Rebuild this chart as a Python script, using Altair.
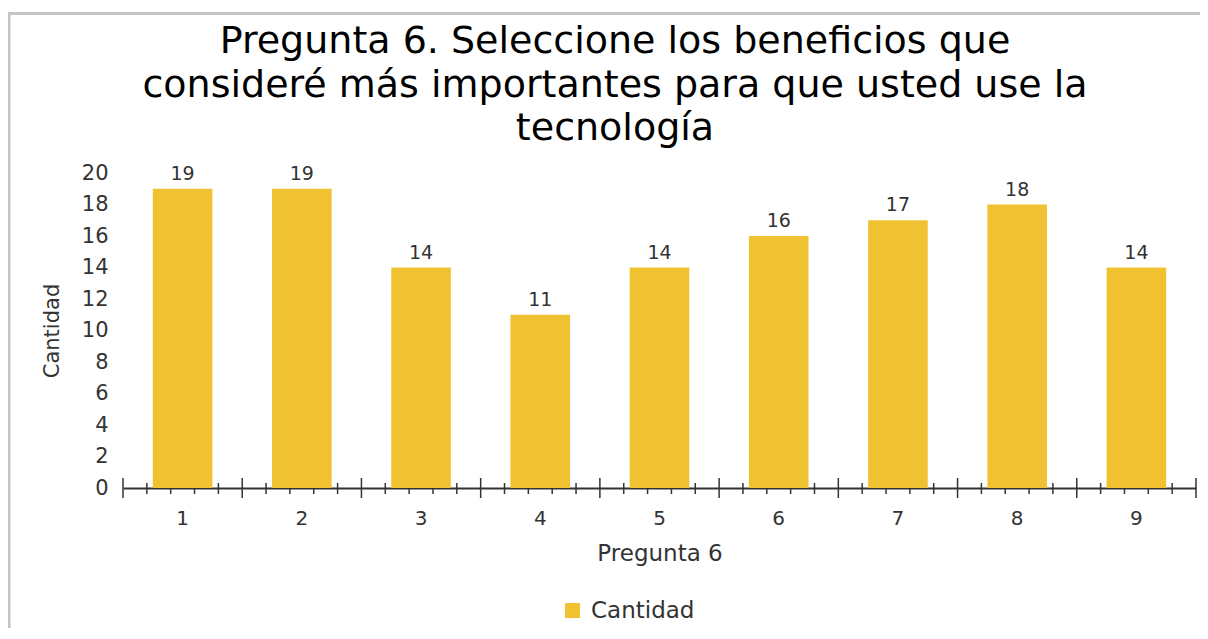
import altair as alt
import pandas as pd

categories = ["1", "2", "3", "4", "5", "6", "7", "8", "9"]
values = [19, 19, 14, 11, 14, 16, 17, 18, 14]
series_name = ["Cantidad"] * len(categories)

title_lines = [
    "Pregunta 6. Seleccione los beneficios que",
    "consideré más importantes para que usted use la",
    "tecnología",
]

y_ticks = [0, 2, 4, 6, 8, 10, 12, 14, 16, 18, 20]
major_ticks = [0.5 + i for i in range(10)]
minor_ticks = [0.5 + i + f for i in range(9) for f in (0.2, 0.4, 0.6, 0.8)]

W, H = 1073, 315
BAR = "#F0C232"
TXT = "#333333"
FONT = "DejaVu Sans"

df = pd.DataFrame({"cat": categories, "val": values, "serie": series_name})
df_major = pd.DataFrame({"pos": major_ticks})
df_minor = pd.DataFrame({"pos": minor_ticks})
df_one = pd.DataFrame({"k": [0]})

qx = alt.Scale(domain=[0.5, 9.5], nice=False, zero=False)
band = alt.Scale(paddingInner=0.5, paddingOuter=0.25)
yscale = alt.Scale(domain=[0, 20], nice=False)

y_axis = alt.Axis(
    values=y_ticks,
    domain=False,
    ticks=False,
    grid=False,
    labelOverlap=False,
    labelFont=FONT,
    labelFontSize=21,
    labelColor=TXT,
    labelPadding=15,
    title="Cantidad",
    titleFont=FONT,
    titleFontSize=21,
    titleFontWeight="normal",
    titleColor=TXT,
    titlePadding=19,
)

frame_left = alt.Chart(df_one).mark_rule(color="#c4c4c4", strokeWidth=3).encode(
    x=alt.value(-114), y=alt.value(-160), y2=alt.value(H + 160)
)
frame_top = alt.Chart(df_one).mark_rule(color="#c4c4c4", strokeWidth=3).encode(
    x=alt.value(-115), x2=alt.value(W + 10), y=alt.value(-159.5)
)

title_mark = alt.Chart(df_one).mark_text(
    text=title_lines,
    font=FONT,
    fontSize=38,
    color="black",
    align="center",
    baseline="middle",
    lineHeight=43.5,
).encode(x=alt.value(492), y=alt.value(-131))

minor = alt.Chart(df_minor).mark_rule(color=TXT, strokeWidth=1.5).encode(
    x=alt.X("pos:Q", scale=qx, axis=None),
    y=alt.value(H - 5),
    y2=alt.value(H + 6),
)
major = alt.Chart(df_major).mark_rule(color=TXT, strokeWidth=1.5).encode(
    x=alt.X("pos:Q", scale=qx, axis=None),
    y=alt.value(H - 10),
    y2=alt.value(H + 10),
)

bars = alt.Chart(df).mark_bar().encode(
    x=alt.X(
        "cat:N",
        sort=categories,
        scale=band,
        axis=alt.Axis(
            orient="bottom",
            labelAngle=0,
            domain=True,
            domainColor=TXT,
            domainWidth=2,
            ticks=False,
            labelPadding=20,
            labelFont=FONT,
            labelFontSize=20,
            labelColor=TXT,
            title="Pregunta 6",
            titleFont=FONT,
            titleFontSize=23,
            titleFontWeight="normal",
            titleColor=TXT,
            titlePadding=14,
        ),
    ),
    y=alt.Y("val:Q", scale=yscale, axis=y_axis),
    color=alt.Color(
        "serie:N",
        scale=alt.Scale(range=[BAR]),
        legend=alt.Legend(
            title=None,
            orient="none",
            legendX=438,
            legendY=426,
            symbolType="square",
            symbolSize=225,
            symbolStrokeWidth=0,
            labelFont=FONT,
            labelFontSize=23,
            labelColor=TXT,
            labelOffset=7,
            padding=0,
        ),
    ),
)

text = alt.Chart(df).mark_text(
    baseline="bottom", dy=-5, font=FONT, fontSize=19, color=TXT
).encode(
    x=alt.X("cat:N", sort=categories, scale=band, axis=None),
    y=alt.Y("val:Q", scale=yscale, axis=y_axis),
    text=alt.Text("val:Q"),
)

chart = (
    alt.layer(frame_left, frame_top, title_mark, minor, major, bars, text)
    .resolve_scale(x="independent")
    .properties(
        width=W,
        height=H,
        autosize=alt.AutoSizeParams(type="none"),
        padding={"left": 115, "top": 165, "right": 4, "bottom": 140},
    )
    .configure_view(stroke=None)
    .configure_axis(labelOverlap=False)
)

chart.save("out.html", embed_options={"renderer": "svg", "actions": False})
